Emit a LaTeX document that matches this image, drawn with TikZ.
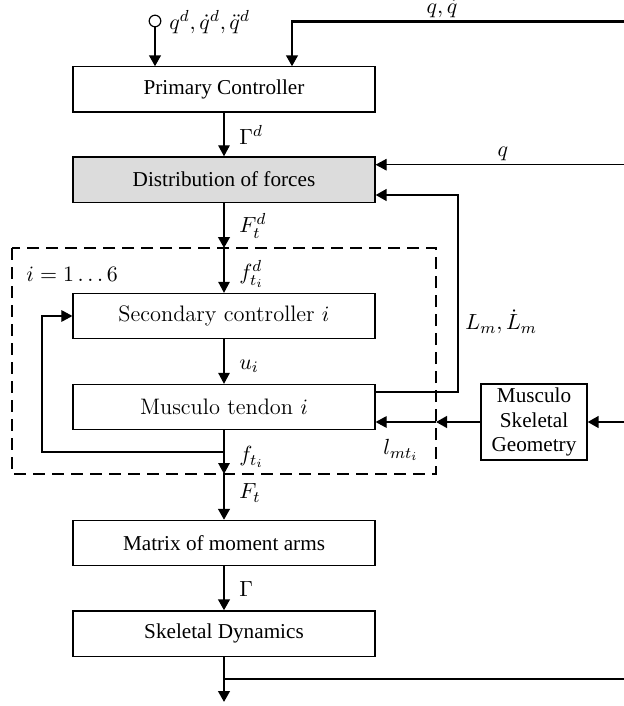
\documentclass[tikz,border=0pt]{standalone}
\usepackage{fontspec}
\newfontfamily\timesf{Liberation Serif}
\usetikzlibrary{arrows.meta,calc}
\begin{document}
\begin{tikzpicture}[x=0.5pt,y=-0.5pt,
  thinl/.style={line width=0.55pt},
  thickl/.style={line width=1.2pt},
  arr/.style={-{Triangle[length=5.5pt,width=5.8pt]}},
  box/.style={draw,line width=0.6pt,minimum width=151pt,minimum height=22.6pt,inner sep=0pt},
  tbox/.style={box,font=\timesf\fontsize{10.6}{12}\selectfont},
  lbox/.style={box,font=\fontsize{11.2}{13}\selectfont},
  lab/.style={inner sep=0pt,font=\fontsize{11.4}{13}\selectfont}]
\useasboundingbox (0,0) rectangle (624,706);
% boxes
\node[tbox] (prim) at (224,89.5) {Primary Controller};
\node[tbox,fill={rgb,255:red,220;green,220;blue,220}] (dist) at (224,179.5) {Distribution of forces};
\node[lbox] (sec) at (224,316) {Secondary controller $i$};
\node[lbox] (mt) at (224,407) {Musculo tendon $i$};
\node[tbox] (mat) at (224,543) {Matrix of moment arms};
\node[tbox] (skel) at (224,633.5) {Skeletal Dynamics};
\node[draw,line width=0.6pt,minimum width=53pt,minimum height=38pt,inner sep=0pt,
  align=center,font=\timesf\fontsize{10.6}{12.2}\selectfont] (msg) at (534,422)
  {Musculo\\Skeletal\\Geometry};
% dashed group
\draw[line width=0.55pt,dash pattern=on 6pt off 3.5pt] (12,248) rectangle (436,474);
\coordinate (dtop) at (224,248);
\coordinate (dbot) at (224,474);
\node[lab,anchor=west] (ilab) at (26,274) {$i=1\ldots6$};
% input
\node[circle,draw,line width=0.6pt,minimum size=5.8pt,inner sep=0pt] (in) at (155,21) {};
\node[lab,anchor=west] at (169,22) {$q^d,\dot q^d,\ddot q^d$};
\draw[thickl,arr] (in) -- (in |- prim.north);
% q, qdot feedback
\coordinate (qqin) at (624,21.5);
\coordinate (qqc) at (292,21.5);
\draw[thickl,arr] (qqin) -- (qqc) -- (qqc |- prim.north);
\node[lab,anchor=south] at (442,18) {$q,\dot q$};
% Gamma^d
\draw[thinl,arr] (prim.south) -- (dist.north);
\node[lab,anchor=west] at (239,135) {$\Gamma^d$};
% q
\coordinate (qin) at (624,164.7);
\draw[thinl,arr] (qin) -- (qin -| dist.east);
\node[lab,anchor=south] at (503,161) {$q$};
% Lm
\coordinate (lmA) at (436,392);
\coordinate (lmB) at (458,392);
\coordinate (lmC) at (458,195);
\draw[thinl] (mt.east |- lmA) -- (lmA);
\draw[thickl,arr] (lmA) -- (lmB) -- (lmC) -- (lmC -| dist.east);
\node[lab,anchor=west] at (465,322) {$L_m,\dot L_m$};
% F_t^d
\draw[thickl,arr] (dist.south) -- (dtop);
\node[lab,anchor=west] at (239,226) {$F_t^d$};
\draw[thinl,arr] (dtop) -- (sec.north);
\node[lab,anchor=west] at (239,274) {$f_{t_i}^d$};
% u_i
\draw[thinl,arr] (sec.south) -- (mt.north);
\node[lab,anchor=west] at (239,366) {$u_i$};
% f_t_i
\draw[thinl,arr] (mt.south) -- (dbot);
\node[lab,anchor=west] at (239,457) {$f_{t_i}$};
\coordinate (fb) at (224,452);
\coordinate (fbL) at (42,452);
\draw[thinl,arr] (fb) -- (fbL) -- (fbL |- sec.west) -- (sec.west);
% l_mt
\coordinate (lmt) at (436,422);
\draw[thickl,arr] (msg.west) -- (lmt);
\draw[thinl,arr] (lmt) -- (mt.east |- lmt);
\node[lab] at (401,450) {$l_{mt_i}$};
\coordinate (gin) at (624,422);
\draw[thickl,arr] (gin) -- (msg.east);
% F_t
\draw[thickl,arr] (dbot) -- (mat.north);
\node[lab,anchor=west] at (239,493) {$F_t$};
% Gamma
\draw[thickl,arr] (mat.south) -- (skel.north);
\node[lab,anchor=west] at (239,589) {$\Gamma$};
% output
\coordinate (out) at (224,702);
\coordinate (br) at (224,679);
\coordinate (brR) at (624,679);
\draw[thickl,arr] (skel.south) -- (out);
\draw[thickl] (br) -- (brR);
\end{tikzpicture}
\end{document}
